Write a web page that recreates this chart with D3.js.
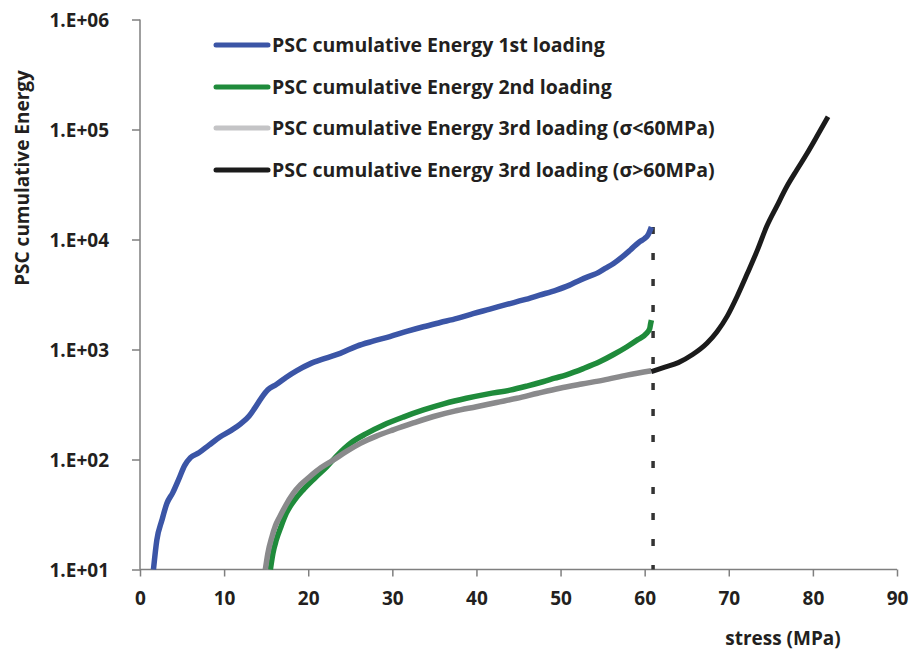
<!DOCTYPE html>
<html>
<head>
<meta charset="utf-8">
<script src="https://cdn.jsdelivr.net/npm/d3@7"></script>
<style>
  html, body { margin: 0; padding: 0; background: #fff; }
  svg { display: block; font-family: "Open Sans", Lato, sans-serif; font-weight: 700; }
</style>
</head>
<body>
<svg id="chart" width="911" height="655"></svg>
<script>
// ---- data ----
const seriesNames = [
  "PSC cumulative Energy 1st loading",
  "PSC cumulative Energy 2nd loading",
  "PSC cumulative Energy 3rd loading (σ<60MPa)",
  "PSC cumulative Energy 3rd loading (σ>60MPa)"
];

const stress1 = [1.6, 2.0, 2.6, 3.2, 3.9, 4.6, 5.3, 6.0, 7.0, 8.2, 9.5, 10.8, 12.0, 13.0, 13.6, 14.4, 15.2, 16.2, 17.4, 18.6, 20.2, 22.0, 23.8, 25.8, 27.7, 29.7, 31.7, 33.7, 35.7, 37.7, 39.6, 41.6, 43.6, 45.6, 47.5, 49.5, 51.0, 52.3, 53.3, 54.3, 55.3, 56.3, 57.3, 58.3, 59.4, 60.0, 60.4, 60.8];
const energy1 = [10, 18.5, 28, 40, 50, 66, 88, 104, 115, 135, 160, 183, 212, 250, 290, 360, 430, 480, 560, 640, 740, 830, 922, 1075, 1190, 1310, 1460, 1610, 1760, 1920, 2120, 2330, 2570, 2820, 3120, 3470, 3830, 4270, 4600, 4920, 5450, 6040, 6900, 8030, 9550, 10200, 11000, 13000];

const stress2 = [15.5, 15.8, 16.2, 16.8, 17.4, 18.3, 19.4, 20.8, 22.2, 23.6, 25.0, 26.9, 28.9, 31.3, 33.7, 36.2, 38.8, 41.4, 44.0, 46.0, 47.9, 49.3, 50.7, 52.7, 54.7, 56.3, 57.9, 59.2, 60.2, 60.6, 60.7, 60.8];
const energy2 = [10, 14, 18.5, 25, 32.5, 42, 53, 68, 86, 112, 140, 172, 205, 243, 282, 322, 360, 395, 427, 465, 509, 548, 589, 670, 777, 900, 1060, 1230, 1400, 1550, 1700, 1850];

const stress3a = [14.9, 15.2, 15.7, 16.1, 16.6, 17.3, 18.2, 19.1, 20.2, 21.5, 23.0, 24.6, 26.2, 28.1, 30.1, 32.5, 34.9, 37.4, 40.0, 42.4, 44.8, 47.3, 49.9, 52.5, 55.1, 57.9, 60.8];
const energy3a = [10, 14, 20, 25, 30, 38, 49, 59, 70, 84, 99, 119, 140, 163, 186, 215, 246, 275, 302, 330, 360, 400, 444, 485, 527, 585, 640];

const stress3b = [60.8, 62.4, 64.0, 65.7, 67.4, 68.6, 69.8, 71.0, 72.2, 73.4, 74.5, 75.7, 76.9, 78.1, 79.3, 80.6, 81.8];
const energy3b = [630, 690, 760, 900, 1140, 1450, 2000, 3050, 4900, 8000, 13100, 20000, 30300, 43000, 60500, 90000, 130700];

const xTicks = [0, 10, 20, 30, 40, 50, 60, 70, 80, 90];
const yTicks = [10, 100, 1000, 10000, 100000, 1000000];
const yTickLabels = ["1.E+01", "1.E+02", "1.E+03", "1.E+04", "1.E+05", "1.E+06"];
const markerStress = 61;          // dashed vertical line
const markerTop = 13000;

const xTitle = "stress (MPa)";
const yTitle = "PSC cumulative Energy";

// ---- layout ----
const colors = ["#3b55a6", "#1f8b3b", "#8a8a8c", "#1b1b1b"];
const legendColors = ["#3b55a6", "#1f8b3b", "#c4c4c6", "#1b1b1b"];
const textColor = "#231f20";
const fontSize = "19px";

const svg = d3.select("#chart");
const x = d3.scaleLinear().domain([0, 90]).range([140, 897]);
const y = d3.scaleLog().domain([10, 1e6]).range([569.5, 19.5]);

const axisColor = "#7f7f7f";

// y axis
const yAxis = svg.append("g").attr("transform", "translate(140,0)")
  .call(d3.axisLeft(y).tickValues(yTicks).tickSize(8).tickPadding(0)
    .tickFormat((d, i) => yTickLabels[i]));
yAxis.select(".domain").attr("stroke", axisColor).attr("stroke-width", 1.5).attr("d", `M0,${y(1e6)}V${y(10)}`);
yAxis.selectAll(".tick line").attr("stroke", axisColor).attr("stroke-width", 1.5);
yAxis.selectAll(".tick text").attr("x", -31).attr("dy", "0.36em")
  .attr("fill", textColor).style("font-size", fontSize).style("font-family", "'Open Sans', sans-serif").style("font-weight", 700);

// x axis
const xAxis = svg.append("g").attr("transform", `translate(0,${y(10)})`)
  .call(d3.axisBottom(x).tickValues(xTicks).tickSize(7).tickPadding(0));
xAxis.select(".domain").attr("stroke", axisColor).attr("stroke-width", 1.5).attr("d", `M${x(0)},0H${x(90)}`);
xAxis.selectAll(".tick line").attr("stroke", axisColor).attr("stroke-width", 1.5);
xAxis.selectAll(".tick text").attr("y", 35).attr("dy", "0")
  .attr("fill", textColor).style("font-size", fontSize).style("font-family", "'Open Sans', sans-serif").style("font-weight", 700);

// axis titles
svg.append("text").attr("x", 783).attr("y", 645).attr("text-anchor", "middle")
  .attr("fill", textColor).style("font-size", fontSize).text(xTitle);
svg.append("text").attr("transform", "translate(29,178) rotate(-90)").attr("text-anchor", "middle")
  .attr("fill", textColor).style("font-size", fontSize).text(yTitle);

// dashed marker
svg.append("line")
  .attr("x1", x(markerStress)).attr("x2", x(markerStress))
  .attr("y1", y(markerTop)).attr("y2", y(10))
  .attr("stroke", "#333").attr("stroke-width", 3.5).attr("stroke-dasharray", "7,19");

// series
const line = d3.line().x(d => x(d[0])).y(d => y(d[1])).curve(d3.curveMonotoneX);
const series = [
  [stress1, energy1], [stress2, energy2], [stress3a, energy3a], [stress3b, energy3b]
];
series.forEach((s, i) => {
  const pts = s[0].map((v, j) => [v, s[1][j]]);
  svg.append("path").datum(pts).attr("d", line)
    .attr("fill", "none").attr("stroke", colors[i])
    .attr("stroke-width", i === 3 ? 5 : 5.5)
    .attr("stroke-linejoin", "round").attr("stroke-linecap", "butt");
});

// legend
const legendY = [45, 87, 128, 170];
const lg = svg.append("g");
seriesNames.forEach((name, i) => {
  lg.append("line").attr("x1", 216).attr("x2", 268).attr("y1", legendY[i]).attr("y2", legendY[i])
    .attr("stroke", legendColors[i]).attr("stroke-width", 5).attr("stroke-linecap", "round");
  lg.append("text").attr("x", 272).attr("y", legendY[i]).attr("dy", "0.36em")
    .attr("fill", textColor).style("font-size", "19.5px").text(name);
});
</script>
</body>
</html>
